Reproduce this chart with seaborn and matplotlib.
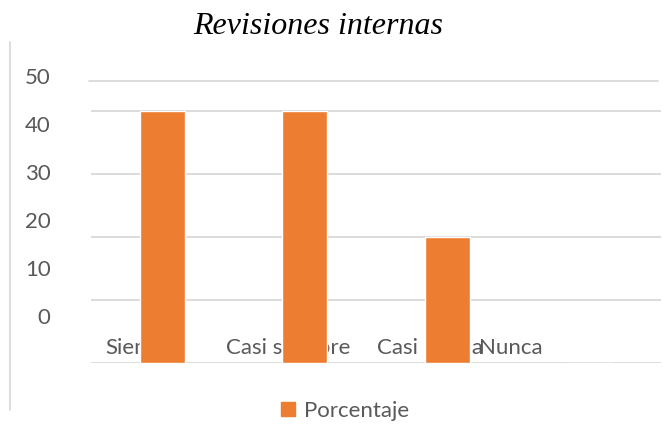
import pandas as pd
import matplotlib.pyplot as plt
import seaborn as sns
from matplotlib.lines import Line2D

# Data
categories = ["Siempre", "Casi siempre", "Casi nunca", "Nunca"]
values = [40, 40, 20, 0]
series_name = "Porcentaje"
y_labels = ["0", "10", "20", "30", "40", "50"]

df = pd.DataFrame({"Categoria": categories, "Valor": values, "Serie": series_name})

sns.set_theme(style="white")
plt.rcParams["font.family"] = ["Lato", "DejaVu Sans"]

W, H = 663, 434
fig = plt.figure(figsize=(W / 100, H / 100), dpi=100)
# plot area in pixels: x 91..661, y(0)=363, 6.3 px per unit
ax = fig.add_axes([91 / W, (H - 363) / H, 570 / W, 315 / H])

sns.barplot(data=df, x="Categoria", y="Valor", hue="Serie", palette=["#ED7D31"],
            width=0.316, saturation=1, ax=ax, legend=False, zorder=1)

ax.set_xlim(-0.5, 3.5)
ax.set_ylim(0, 50)
ax.set_xlabel("")
ax.set_ylabel("")
for s in ax.spines.values():
    s.set_visible(False)

grey = "#595959"
fs = 16
# gridlines at the real values
ax.set_yticks([0, 10, 20, 30, 40], minor=True)
ax.grid(which="minor", axis="y", color="#d9d9d9", linewidth=1.3, zorder=0)
ax.grid(which="major", visible=False)
ax.set_axisbelow(True)
ax.axhline(44.8, xmin=-0.004, xmax=0.995, color="#d9d9d9", linewidth=1.3,
           clip_on=False, zorder=0)

# value labels sit off their gridlines, as in the original
label_pos = [7.5 + 7.62 * i for i in range(len(y_labels))]
ax.set_yticks(label_pos, y_labels)
ax.tick_params(axis="y", which="both", length=0, labelsize=fs, colors=grey, pad=29)

# category labels drawn above the axis line, behind the bars
cat_pos = [-0.40, 0.45, 1.51, 2.225]
ax.set_xticks(cat_pos, categories, ha="left")
ax.tick_params(axis="x", length=0, labelsize=fs, colors=grey, pad=-18)

fig.text(318 / W, 1 - 27 / H, "Revisiones internas", family="Liberation Serif",
         style="italic", fontsize=23, color="black", ha="center", va="center")

handle = plt.Rectangle((0, 0), 1, 1, color="#ED7D31")
fig.legend([handle], [series_name], loc="center", bbox_to_anchor=(345 / W, 1 - 411 / H),
           frameon=False, fontsize=fs, labelcolor=grey, handlelength=0.6,
           handleheight=0.6, handletextpad=0.4)

fig.add_artist(Line2D([10 / W, 10 / W], [1 - 42 / H, 1 - 410 / H], color="#d9d9d9",
                      linewidth=1.3))

fig.savefig("out.png", dpi=100)
